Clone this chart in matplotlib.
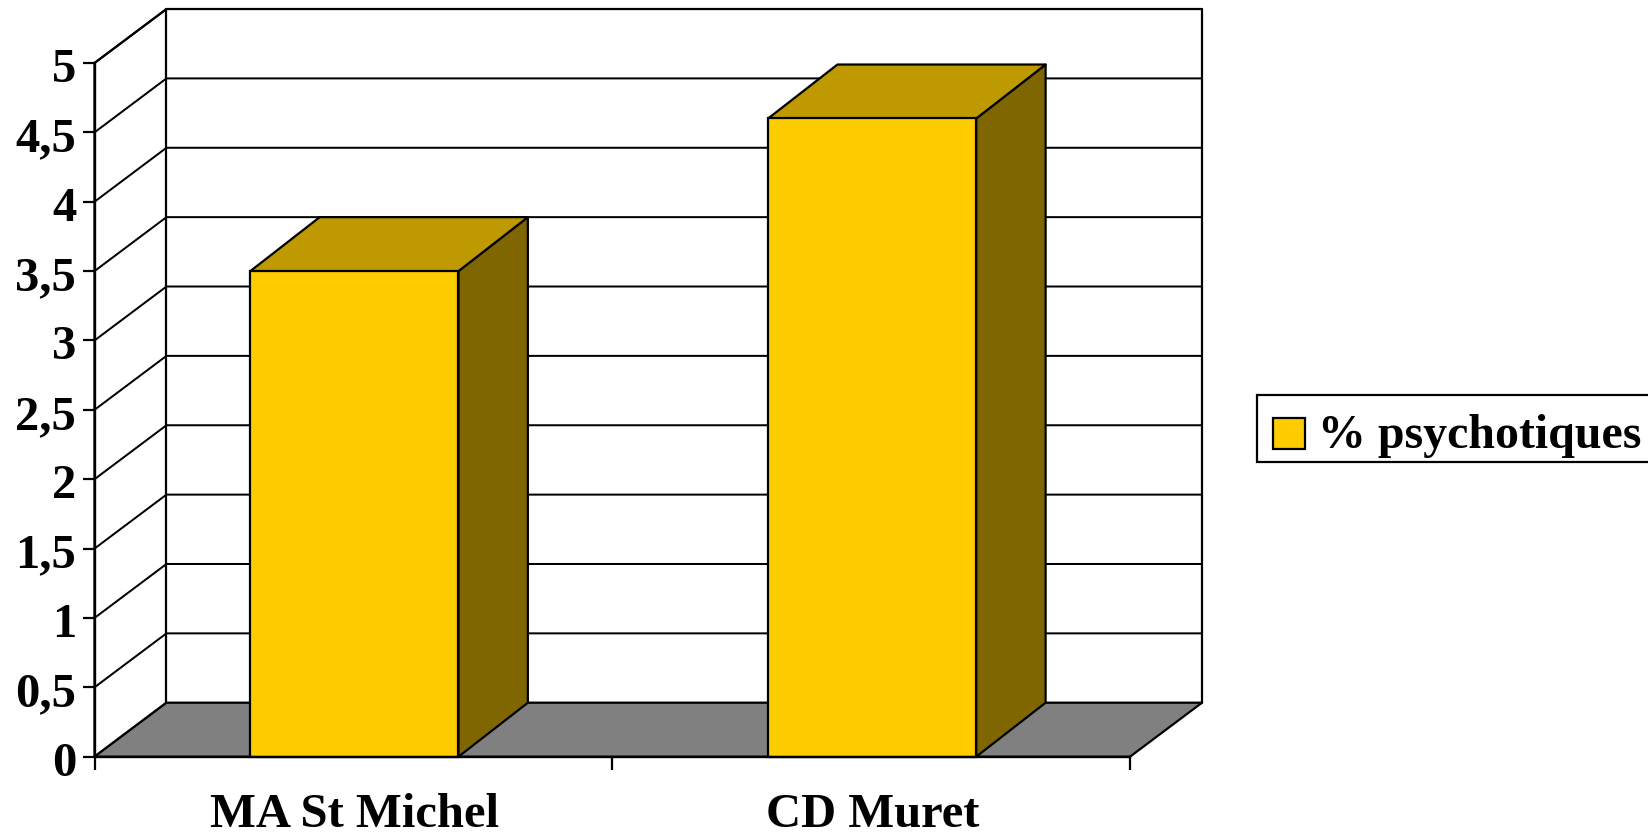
import matplotlib
matplotlib.use("Agg")
import matplotlib.pyplot as plt
from matplotlib.patches import Polygon, Patch, Rectangle
from matplotlib.legend_handler import HandlerPatch
from matplotlib.transforms import ScaledTranslation

categories = ["MA St Michel", "CD Muret"]
values = [3.5, 4.6]
y_ticks = [0, 0.5, 1, 1.5, 2, 2.5, 3, 3.5, 4, 4.5, 5]
y_tick_labels = ["0", "0,5", "1", "1,5", "2", "2,5", "3", "3,5", "4", "4,5", "5"]
series_name = "% psychotiques"

W, H = 1648, 833
FS = 35
FS_LEG = 34.5
LW = 1.6
DX, DY = 0.139, 0.389   # wall depth offset in data units
BAR_DX = 0.134          # bar depth offset
BAR_W = 0.402
BAR_SHIFT = 0.002
LABEL_SHIFT = 0.003
plt.rcParams["font.family"] = ["Liberation Serif"]
plt.rcParams["font.weight"] = "bold"

fig = plt.figure(figsize=(W / 100, H / 100), dpi=100, facecolor="white")
ax = fig.add_axes([94.5 / W, (H - 756.7) / H, 1035.5 / W, 693.7 / H])
ax.set_xlim(0, len(categories))
ax.set_ylim(0, 5)
ax.patch.set_visible(False)
for s in ["top", "right"]:
    ax.spines[s].set_visible(False)
for s in ["left", "bottom"]:
    ax.spines[s].set_linewidth(LW + 0.1)
    ax.spines[s].set_zorder(8)

n = len(categories)
ymax = y_ticks[-1]

def poly(pts, fc, z):
    ax.add_patch(Polygon(pts, closed=True, facecolor=fc, edgecolor="black",
                         linewidth=LW, joinstyle="round", clip_on=False, zorder=z))

# back wall, side wall and floor
poly([(0, 0), (DX, DY), (DX, ymax + DY), (0, ymax)], "white", 1)
poly([(DX, DY), (n + DX, DY), (n + DX, ymax + DY), (DX, ymax + DY)], "white", 1)
for v in y_ticks[1:]:
    ax.plot([0, DX, n + DX], [v, v + DY, v + DY], color="black", lw=LW * 0.9,
            clip_on=False, zorder=2, solid_joinstyle="miter")
poly([(0, 0), (n, 0), (n + DX, DY), (DX, DY)], "#808080", 3)

# bars
for i, v in enumerate(values):
    c = i + 0.5 + BAR_SHIFT
    x0 = c - BAR_W / 2
    x1 = c + BAR_W / 2
    poly([(x1, 0), (x1 + BAR_DX, DY), (x1 + BAR_DX, v + DY), (x1, v)], "#806600", 4)
    poly([(x0, v), (x1, v), (x1 + BAR_DX, v + DY), (x0 + BAR_DX, v + DY)], "#BF9900", 4)
    ax.bar(c, v, width=BAR_W, color="#FFCC00", edgecolor="black",
           linewidth=LW, zorder=5, clip_on=False)

ax.set_yticks(y_ticks, y_tick_labels)
ax.set_xticks(range(n + 1), [""] * (n + 1))
ax.set_xticks([i + 0.5 + LABEL_SHIFT for i in range(n)], categories, minor=True)
ax.tick_params(axis="y", length=8.7, width=LW, pad=4.5, labelsize=FS)
ax.tick_params(axis="x", which="major", length=9, width=LW)
ax.tick_params(axis="x", which="minor", length=0, pad=26, labelsize=FS)

# y labels share a baseline below their tick, whatever the comma adds
drop = ScaledTranslation(0, -19 / 100, fig.dpi_scale_trans)
for lab in ax.get_yticklabels():
    lab.set_verticalalignment("baseline")
    lab.set_transform(lab.get_transform() + drop)


def swatch(legend, orig_handle, xdescent, ydescent, width, height, fontsize):
    return Rectangle((3.3 - xdescent, -6.4 - ydescent), 22.7, 22.3)


handle = Patch(facecolor="#FFCC00", edgecolor="black", linewidth=LW, label=series_name)
leg = fig.legend(handles=[handle], loc="upper left",
                 handler_map={Patch: HandlerPatch(patch_func=swatch)},
                 bbox_to_anchor=(1257 / W, 1 - 394.7 / H), bbox_transform=fig.transFigure,
                 fancybox=False, framealpha=1, edgecolor="black",
                 handlelength=0.772, handleheight=0.7, handletextpad=0.26,
                 borderpad=0.24, borderaxespad=0, prop={"weight": "bold", "size": FS_LEG})
leg.get_frame().set_linewidth(LW)
leg.get_texts()[0].set_position((0, -8.0))

fig.savefig("out.png", dpi=100)
